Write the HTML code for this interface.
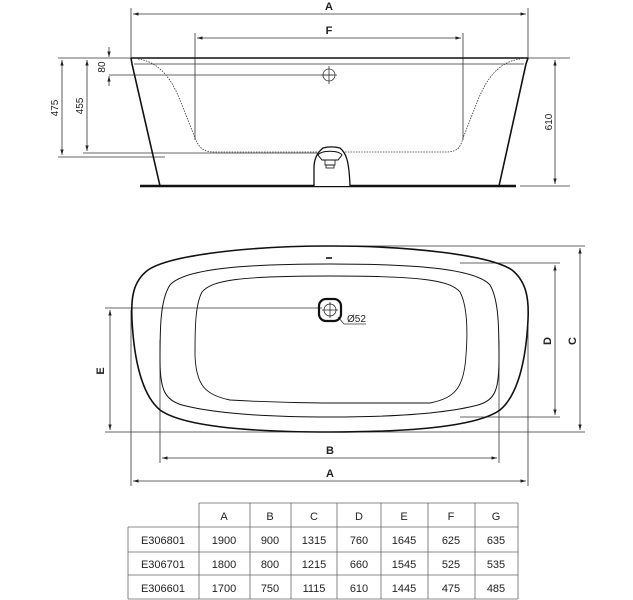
<!DOCTYPE html>
<html><head><meta charset="utf-8"><style>
html,body{margin:0;padding:0;background:#fff;}
svg{display:block;}
text{font-family:"Liberation Sans",Arial,sans-serif;fill:#222;}
</style></head><body>
<svg width="633" height="600" viewBox="0 0 633 600" xmlns="http://www.w3.org/2000/svg">
<defs>
<marker id="ar" viewBox="0 0 10 10" refX="10" refY="5" markerWidth="7" markerHeight="7" orient="auto-start-reverse"><path d="M0,2 L10,5 L0,8 z" fill="#222"/></marker>
</defs>
<g stroke="#333" stroke-width="0.8" fill="none">
<!-- ELEVATION -->
<line x1="131" y1="8" x2="131" y2="58"/><line x1="528" y1="8" x2="528" y2="58"/>
<line x1="133" y1="14" x2="526" y2="14" marker-start="url(#ar)" marker-end="url(#ar)"/>
<line x1="195" y1="33" x2="195" y2="140"/><line x1="463" y1="33" x2="463" y2="140"/>
<line x1="197" y1="38" x2="461" y2="38" marker-start="url(#ar)" marker-end="url(#ar)"/>
<line x1="58" y1="58" x2="570" y2="58"/>
<line x1="134" y1="64" x2="524" y2="64"/>
<line x1="109" y1="75" x2="333" y2="75"/>
<line x1="83" y1="153" x2="330" y2="153"/>
<line x1="58" y1="157" x2="165" y2="157"/>
<line x1="520" y1="186" x2="570" y2="186"/>
<line x1="62" y1="60" x2="62" y2="155" marker-start="url(#ar)" marker-end="url(#ar)"/>
<line x1="87" y1="60" x2="87" y2="151" marker-start="url(#ar)" marker-end="url(#ar)"/>
<line x1="109" y1="47" x2="109" y2="57" marker-end="url(#ar)"/>
<line x1="109" y1="86" x2="109" y2="76" marker-end="url(#ar)"/>
<line x1="555" y1="60" x2="555" y2="184" marker-start="url(#ar)" marker-end="url(#ar)"/>
<circle cx="329" cy="75" r="6"/><line x1="329" y1="66" x2="329" y2="84"/><line x1="321" y1="75" x2="337" y2="75"/>
<path d="M138 59 C160 62 172 80 180 100 L195 138 C200 150 205 152 215 152 L445 152 C455 152 460 150 463 138 L478 100 C486 80 498 62 520 59" stroke-dasharray="1.5 1.2"/>
</g>
<g stroke="#111" fill="none">
<line x1="131" y1="58" x2="528" y2="58" stroke-width="1.5"/>
<path d="M131 58 L132 64 L160 186" stroke-width="1.6"/>
<path d="M528 58 L526 64 L499 186" stroke-width="1.6"/>
<line x1="140" y1="186" x2="516" y2="186" stroke-width="2.4"/>
<path d="M314 186 L314 168 C314 158 318 152 323 148 C330 146 336 147 340 148 C346 153 349 160 350 186" stroke-width="1.3" fill="#fff"/>
<path d="M318 155 C322 150 338 150 342 155 L338 160 L322 160 z" stroke-width="1"/>
<rect x="325" y="160" width="10" height="5" stroke-width="0.8"/>
<rect x="326" y="165" width="8" height="3" stroke-width="0.8"/>
</g>
<text x="329" y="10" font-size="11" font-weight="bold" text-anchor="middle">A</text>
<text x="329" y="34" font-size="11" font-weight="bold" text-anchor="middle">F</text>
<text font-size="10" transform="translate(58,108) rotate(-90)" text-anchor="middle">475</text>
<text font-size="10" transform="translate(83,106) rotate(-90)" text-anchor="middle">455</text>
<text font-size="10" transform="translate(105,67) rotate(-90)" text-anchor="middle">80</text>
<text font-size="10" transform="translate(552,122) rotate(-90)" text-anchor="middle">610</text>

<!-- PLAN -->
<g stroke="#333" stroke-width="0.8" fill="none">
<line x1="329" y1="246" x2="585" y2="246"/>
<line x1="460" y1="263" x2="560" y2="263"/>
<line x1="460" y1="417" x2="560" y2="417"/>
<line x1="105" y1="432" x2="585" y2="432"/>
<line x1="105" y1="308" x2="322" y2="308"/>
<line x1="131" y1="310" x2="131" y2="486"/><line x1="528" y1="310" x2="528" y2="486"/>
<line x1="160" y1="340" x2="160" y2="463"/><line x1="499" y1="340" x2="499" y2="463"/>
<line x1="110" y1="310" x2="110" y2="430" marker-start="url(#ar)" marker-end="url(#ar)"/>
<line x1="555" y1="265" x2="555" y2="415" marker-start="url(#ar)" marker-end="url(#ar)"/>
<line x1="580" y1="248" x2="580" y2="430" marker-start="url(#ar)" marker-end="url(#ar)"/>
<line x1="162" y1="458" x2="497" y2="458" marker-start="url(#ar)" marker-end="url(#ar)"/>
<line x1="133" y1="481" x2="526" y2="481" marker-start="url(#ar)" marker-end="url(#ar)"/>
<line x1="338" y1="317" x2="344" y2="324"/><line x1="344" y1="324" x2="366" y2="324"/>
</g>
<g fill="none" stroke="#111">
<path stroke-width="1.6" d="M330 246 C250 246 170 255 148 270 C132 282 131 300 132 320 C134 360 142 395 160 410 C185 428 260 432 330 432 C400 432 475 428 500 410 C518 395 526 360 528 320 C529 300 527 282 512 270 C490 255 410 246 330 246 Z"/>
<path stroke-width="1" d="M330 264 C250 264 185 268 170 285 C160 300 160 330 160 360 C160 390 165 400 182 405 C220 415 280 417 330 417 C380 417 440 415 478 405 C495 400 499 390 499 360 C499 330 499 300 490 285 C475 268 410 264 330 264 Z"/>
<path stroke-width="0.9" d="M330 276 C240 276 212 280 202 292 C195 305 195 330 195 355 C196 385 205 395 230 400 C280 403 330 403 330 403 C380 403 430 403 430 403 C455 398 464 388 466 355 C468 330 467 305 460 292 C450 280 420 276 330 276 Z"/>
<line x1="326" y1="258" x2="332" y2="258" stroke-width="1.6"/>
<rect x="319" y="299" width="22" height="22" rx="7" stroke-width="2.2"/>
<circle cx="330" cy="310" r="6" stroke-width="0.7"/>
<line x1="330" y1="302" x2="330" y2="318" stroke-width="0.7"/><line x1="322" y1="310" x2="338" y2="310" stroke-width="0.7"/>
</g>
<text x="347" y="322" font-size="10">Ø52</text>
<text x="330" y="454" font-size="11" font-weight="bold" text-anchor="middle">B</text>
<text x="330" y="477" font-size="11" font-weight="bold" text-anchor="middle">A</text>
<text font-size="11" font-weight="bold" transform="translate(104,371) rotate(-90)" text-anchor="middle">E</text>
<text font-size="11" font-weight="bold" transform="translate(551,341) rotate(-90)" text-anchor="middle">D</text>
<text font-size="11" font-weight="bold" transform="translate(576,341) rotate(-90)" text-anchor="middle">C</text>

<!-- TABLE -->
<g stroke="#666" stroke-width="0.8" fill="none">
<line x1="199" y1="503" x2="518" y2="503"/>
<line x1="128" y1="527" x2="518" y2="527"/>
<line x1="128" y1="552" x2="518" y2="552"/>
<line x1="128" y1="575" x2="518" y2="575"/>
<line x1="128" y1="599" x2="518" y2="599"/>
<line x1="128" y1="527" x2="128" y2="599"/>
<line x1="199" y1="503" x2="199" y2="599"/>
<line x1="250" y1="503" x2="250" y2="599"/>
<line x1="291" y1="503" x2="291" y2="599"/>
<line x1="337" y1="503" x2="337" y2="599"/>
<line x1="381" y1="503" x2="381" y2="599"/>
<line x1="428" y1="503" x2="428" y2="599"/>
<line x1="475" y1="503" x2="475" y2="599"/>
<line x1="518" y1="503" x2="518" y2="599"/>
</g>
<g font-size="11" text-anchor="middle">
<text x="224" y="520">A</text><text x="270" y="520">B</text><text x="314" y="520">C</text><text x="359" y="520">D</text><text x="404" y="520">E</text><text x="451" y="520">F</text><text x="496" y="520">G</text>
<text x="163" y="544">E306801</text><text x="224" y="544">1900</text><text x="270" y="544">900</text><text x="314" y="544">1315</text><text x="359" y="544">760</text><text x="404" y="544">1645</text><text x="451" y="544">625</text><text x="496" y="544">635</text>
<text x="163" y="568">E306701</text><text x="224" y="568">1800</text><text x="270" y="568">800</text><text x="314" y="568">1215</text><text x="359" y="568">660</text><text x="404" y="568">1545</text><text x="451" y="568">525</text><text x="496" y="568">535</text>
<text x="163" y="592">E306601</text><text x="224" y="592">1700</text><text x="270" y="592">750</text><text x="314" y="592">1115</text><text x="359" y="592">610</text><text x="404" y="592">1445</text><text x="451" y="592">475</text><text x="496" y="592">485</text>
</g>
</svg>
</body></html>
